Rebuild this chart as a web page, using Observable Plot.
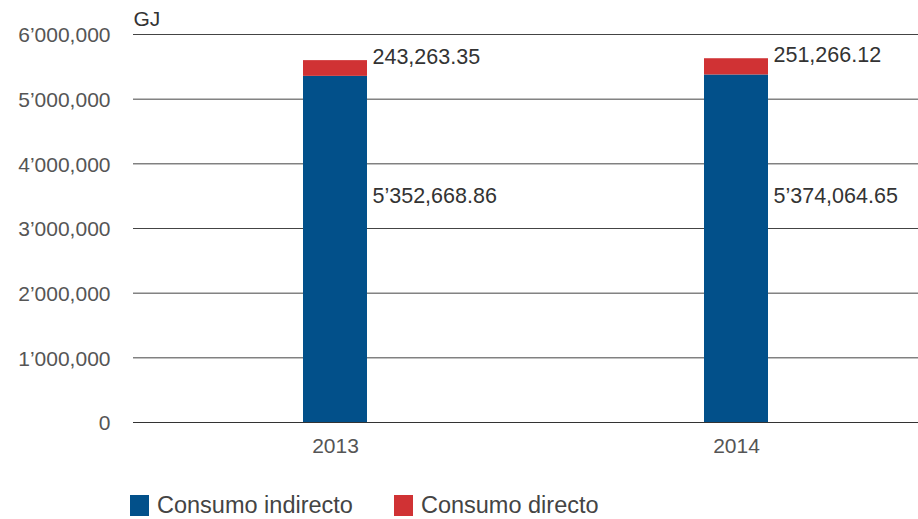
<!DOCTYPE html>
<html>
<head>
<meta charset="utf-8">
<script src="https://cdn.jsdelivr.net/npm/d3@7"></script>
<script src="https://cdn.jsdelivr.net/npm/@observablehq/plot@0.6"></script>
<style>
  html, body { margin: 0; padding: 0; background: #fff; }
  body { width: 918px; height: 519px; overflow: hidden; font-family: "Liberation Sans", Arial, sans-serif; }
  #legend { position: absolute; left: 130px; top: 492px; display: flex; align-items: center; font-size: 23.5px; color: #444; }
  .item { display: flex; align-items: center; margin-right: 41px; }
  .sw { width: 19px; height: 21px; margin-right: 8px; }
</style>
</head>
<body>
<div id="chart"></div>
<div id="legend"></div>
<script>
const years = ["2013", "2014"];
const indirecto = [5352668.86, 5374064.65];
const directo = [243263.35, 251266.12];
const seriesNames = ["Consumo indirecto", "Consumo directo"];
const seriesColors = ["#02508a", "#d03234"];
const yTicks = [0, 1000000, 2000000, 3000000, 4000000, 5000000, 6000000];
const unitLabel = "GJ";

function fmtNum(v, decimals) {
  const s = d3.format(",." + decimals + "f")(v);
  const parts = s.split(",");
  if (parts.length > 2) return parts[0] + "\u2019" + parts.slice(1).join(",");
  return s;
}

const rows = [];
years.forEach((y, i) => {
  rows.push({year: y, series: seriesNames[0], value: indirecto[i]});
  rows.push({year: y, series: seriesNames[1], value: directo[i]});
});
const totals = years.map((y, i) => ({year: y, total: indirecto[i] + directo[i], dir: directo[i], ind: indirecto[i]}));

const chart = Plot.plot({
  width: 918,
  height: 470,
  marginLeft: 133,
  marginRight: 0,
  marginTop: 34,
  marginBottom: 48,
  style: {fontFamily: "'Liberation Sans', Arial, sans-serif", fontSize: "21px", background: "#fff"},
  x: {domain: years, paddingInner: 0.8406, paddingOuter: 0.398, align: 0.532, label: null},
  y: {domain: [0, 6000000], label: null},
  color: {domain: seriesNames, range: seriesColors},
  marks: [
    Plot.ruleY(yTicks, {stroke: "#444", strokeWidth: 1}),
    Plot.barY(rows, {x: "year", y: "value", fill: "series", order: seriesNames}),
    Plot.ruleY([0], {stroke: "#333", strokeWidth: 1.2}),
    Plot.axisY({ticks: yTicks, tickSize: 0, tickPadding: 23, dy: 1, tickFormat: d => fmtNum(d, 0), fill: "#555", fontSize: 21}),
    Plot.axisX({tickSize: 0, tickPadding: 16, fill: "#555", fontSize: 21}),
    Plot.text([unitLabel], {frameAnchor: "top-left", dy: -23, text: d => d, fill: "#333", fontSize: 21, textAnchor: "start"}),
    Plot.text(totals, {x: "year", y: "total", text: d => fmtNum(d.dir, 2), dx: 37, dy: -4, textAnchor: "start", fill: "#333", fontSize: 21.5}),
    Plot.text(totals, {x: "year", y: () => 3500000, text: d => fmtNum(d.ind, 2), dx: 37, textAnchor: "start", fill: "#333", fontSize: 21.5})
  ]
});
document.getElementById("chart").appendChild(chart);

const legend = document.getElementById("legend");
seriesNames.forEach((n, i) => {
  const it = document.createElement("div");
  it.className = "item";
  const sw = document.createElement("div");
  sw.className = "sw";
  sw.style.background = seriesColors[i];
  const t = document.createElement("span");
  t.textContent = n;
  it.appendChild(sw);
  it.appendChild(t);
  legend.appendChild(it);
});
</script>
</body>
</html>
